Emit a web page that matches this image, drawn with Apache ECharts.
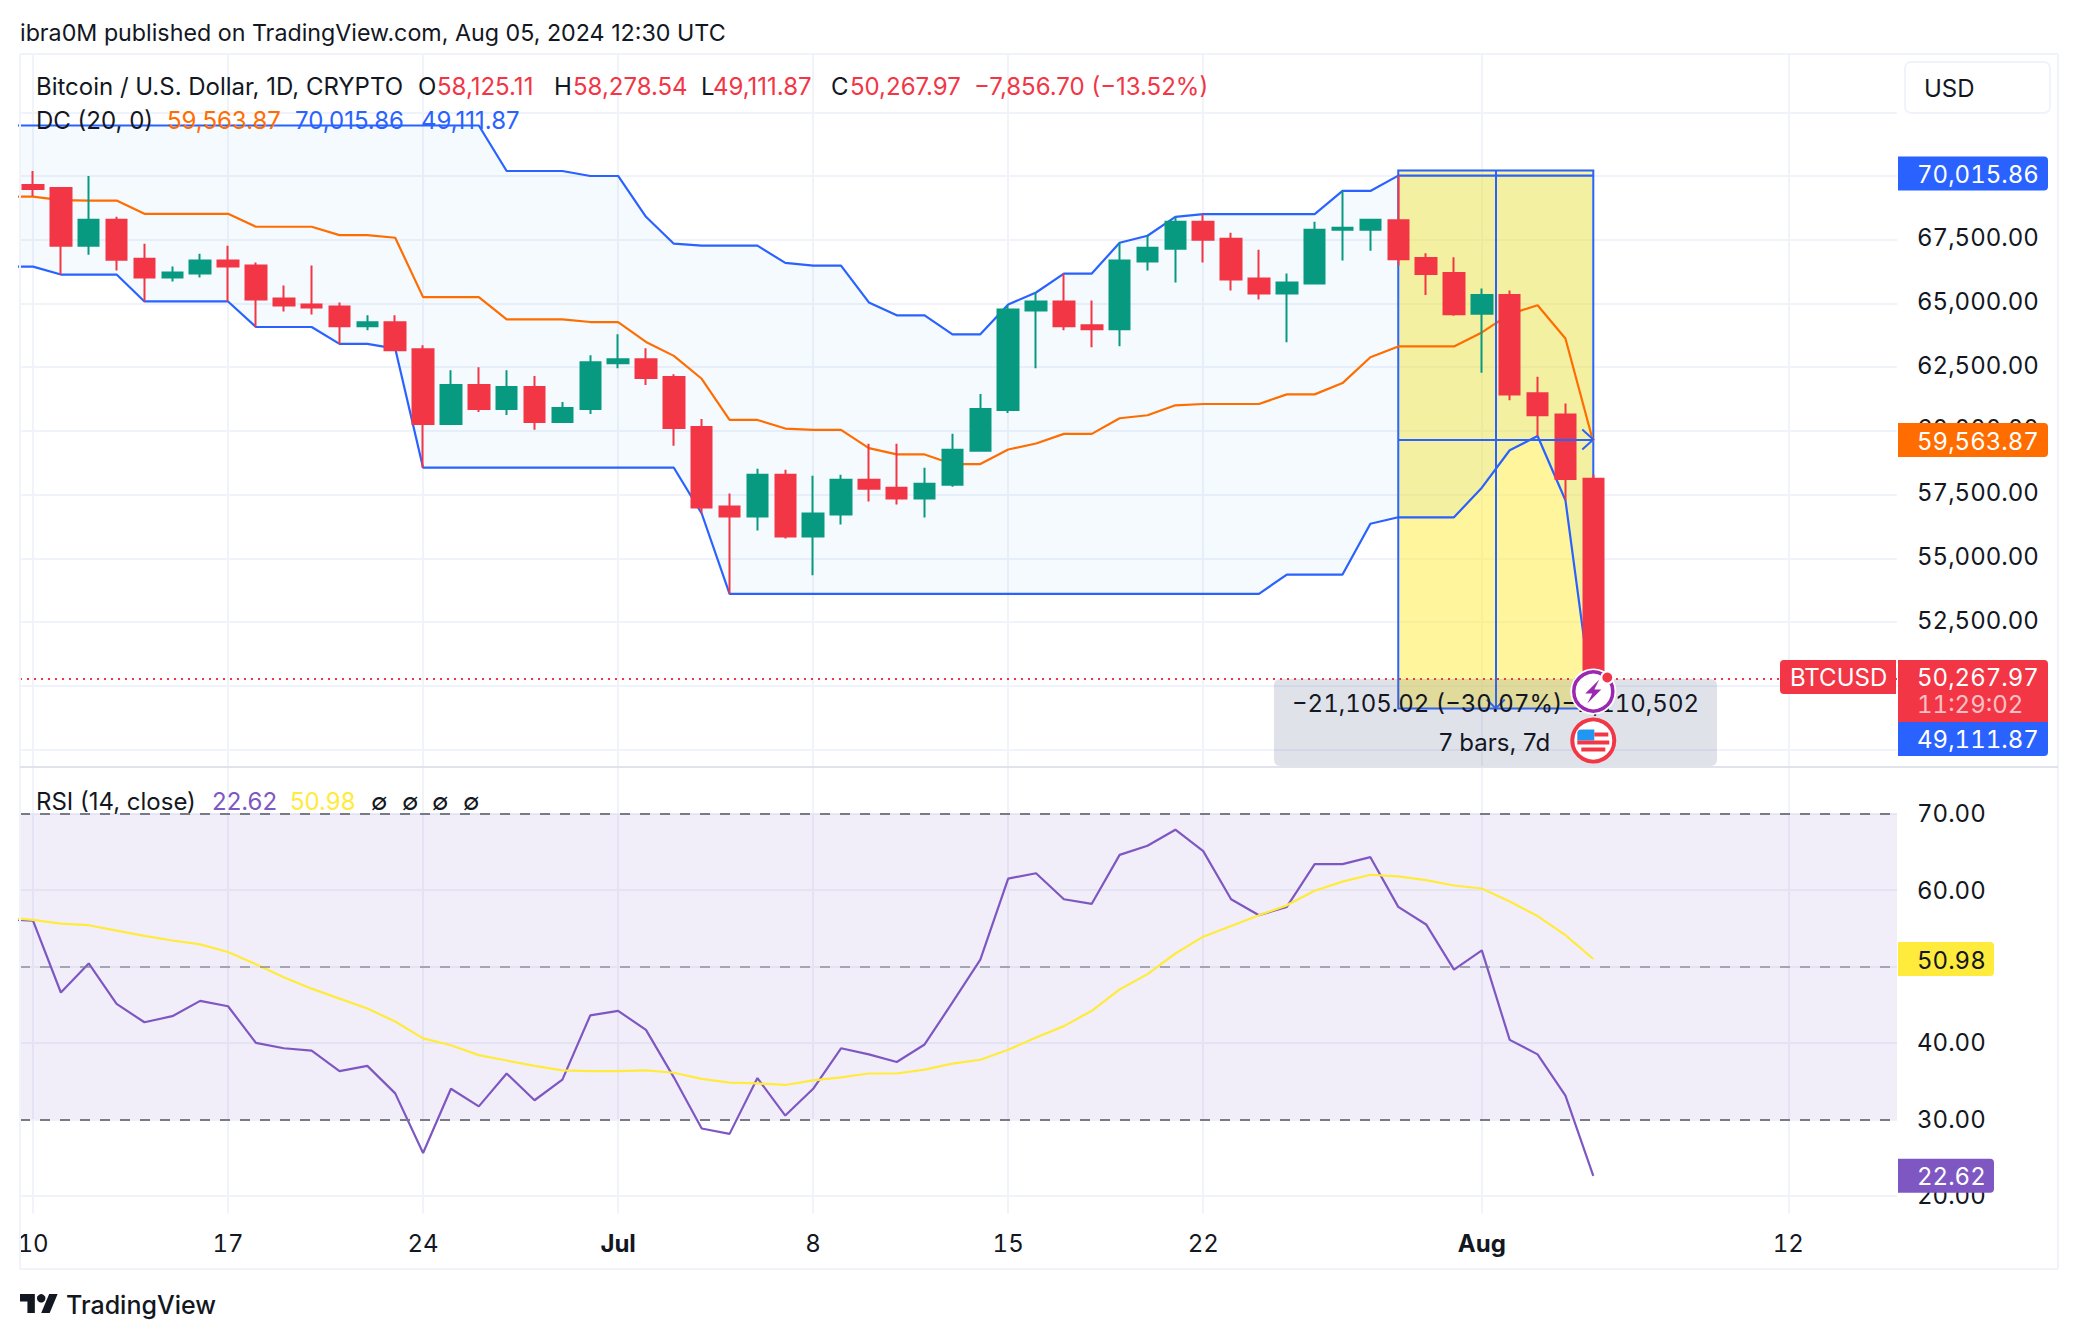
<!DOCTYPE html>
<html>
<head>
<meta charset="utf-8">
<title>BTCUSD</title>
<script src="https://cdn.jsdelivr.net/npm/echarts@6/dist/echarts.min.js"></script>
<style>
  html, body { margin: 0; padding: 0; background: #fff; }
  #chart { width: 2078px; height: 1340px; }
  /* scale and tag numbers are tabular, the legend rows are not (they use other sizes) */
  #chart text[style*="24px"] { font-variant-numeric: tabular-nums !important; }
</style>
</head>
<body>
<div id="chart"></div>
<script>
// days shown, from one day before the first visible candle
const days = ['06-09','06-10','06-11','06-12','06-13','06-14','06-15','06-16','06-17','06-18','06-19','06-20','06-21','06-22','06-23','06-24','06-25','06-26','06-27','06-28','06-29','06-30',
  '07-01','07-02','07-03','07-04','07-05','07-06','07-07','07-08','07-09','07-10','07-11','07-12','07-13','07-14','07-15','07-16','07-17','07-18','07-19','07-20','07-21','07-22','07-23','07-24','07-25','07-26','07-27','07-28','07-29','07-30','07-31',
  '08-01','08-02','08-03','08-04','08-05'];

// candles, Jun 10 to Aug 5
const opens = [69648,69531,67266,68281,66758,66016,66172,66680,66485,65196,64961,64883,64102,64258,63204,60274,61797,60860,61719,60352,60860,
  62657,62813,62110,60157,57032,56642,58282,55860,56720,58087,57774,57345,57891,59220,60821,64727,65078,64141,63985,66641,67149,68203,67539,65977,65391,65782,67891,67891,68263,66780,66190,
  64596,65330,61472,60643,58125.11];
const closes = [69492,67266,68281,66719,66016,66211,66680,66446,65157,64922,64844,64102,64258,63165,60274,61797,60860,61719,60352,60899,62696,
  62813,62071,60118,56993,56642,58282,55860,56759,58087,57735,57345,57930,59259,60860,64766,65078,64102,63985,66680,67188,68203,67500,65938,65391,65821,67891,67969,68281,66732,66158,64580,
  65330,61424,60611,58109,50267.97];
const lows = [69219,66133,66914,66289,65078,65860,66016,65078,64063,64688,64571,63412,63946,63165,58556,60274,60743,60626,60040,60313,60665,
  62461,61797,59415,56759,53608,56095,55782,54337,56329,57227,57110,56603,57813,59220,60704,62461,63946,63282,63321,66289,65821,66602,65508,65157,63477,65743,66680,67070,66485,65330,64517,
  62285,61201,59798,57280,49111.87];
const highs = [70195,69570,70000,68398,67344,66446,66953,67266,66602,65703,66485,65039,64532,64532,63360,62383,62500,62383,62149,61133,62969,
  63790,63243,62227,60470,57540,58517,58478,58243,58282,59493,59493,58556,59884,61446,64922,65430,66172,65118,67383,67656,68398,68503,67774,67110,66172,68203,69414,68320,70016,66971,66812,
  65585,65505,62125,61074,58278.54];

// Donchian channel, Jun 9 to Aug 5
const dcUpper = [71981,71981,71981,71981,71981,71981,71981,71981,71981,71981,71981,71981,71981,71981,71981,71981,71981,71981,70195,70195,70195,70000,
  70000,68398,67344,67266,67266,67266,66589,66485,66485,65039,64532,64532,63790,63790,64961,65430,66172,66172,67383,67656,68398,68503,68503,68503,68503,68503,69414,69414,70015.86,70015.86,70015.86,
  70015.86,70015.86,70015.86,70015.86,70015.86];
const dcMiddle = [69193,69193,69050,69036,69036,68516,68516,68516,68516,68008,68008,68008,67682,67682,67578,65248,65248,65248,64375,64375,64375,64271,
  64271,63490,62943,62045,60430,60430,60092,60040,60040,59324,59076,59076,58698,58698,59271,59506,59884,59884,60495,60613,61003,61055,61055,61055,61433,61433,61876,62891,63313,63313,63313,
  63863,64580,64931,63624,59563.87];
const dcLower = [66446,66446,66133,66133,66133,65078,65078,65078,65078,64076,64076,64076,63412,63412,63230,58556,58556,58556,58556,58556,58556,58556,
  58556,58556,58556,56759,53608,53608,53608,53608,53608,53608,53608,53608,53608,53608,53608,53608,53608,53608,53608,53608,53608,53608,53608,53608,54363,54363,54363,56355,56610,56610,56610,
  57774,59240,59798,57280,49111.87];

// RSI and its moving average, Jun 9 to Aug 5
const rsi = [56.2,56.0,46.6,50.4,45.1,42.7,43.5,45.5,44.8,40.0,39.3,39.0,36.3,37.0,33.4,25.6,34.0,31.7,36.0,32.5,35.2,43.6,
  44.2,41.7,35.5,28.8,28.1,35.4,30.5,34.0,39.3,38.5,37.5,39.8,45.3,50.9,61.5,62.2,58.8,58.2,64.6,65.8,67.9,65.1,58.8,56.7,57.8,63.4,63.4,64.3,57.8,55.5,49.6,
  52.1,40.4,38.5,33.1,22.62];
const rsiMa = [56.4,56.1,55.6,55.4,54.7,54.0,53.4,52.9,51.9,50.3,48.6,47.1,45.8,44.5,42.8,40.6,39.7,38.4,37.7,37.0,36.4,36.3,
  36.3,36.4,36.1,35.3,34.8,34.7,34.5,35.1,35.5,36.0,36.0,36.5,37.3,37.8,39.1,40.7,42.2,44.2,47.0,49.0,51.7,53.9,55.3,56.7,58.0,59.9,61.1,62.0,61.8,61.3,60.6,
  60.2,58.5,56.6,54.1,50.98];

// axis ticks, labels hidden behind tags in the reference are left out
const xTickDays = ['06-10','06-17','06-24','07-01','07-08','07-15','07-22','08-01','08-12'];
const xTickLabels = ['10','17','24','Jul','8','15','22','Aug','12'];
const priceGrid = [47500,50000,52500,55000,57500,60000,62500,65000,67500,70000,72500];
const priceLabels = [52500,55000,57500,60000,62500,65000,67500];
const rsiGrid = [20,30,40,50,60,70];
const rsiLabels = [20,30,40,60,70];

// measure tool, last values
const measureTop = 70216.89;
const measureBottom = 49111.87;
const lastClose = 50267.97;

const FONT = 'Inter';
const RED = '#F23645', GREEN = '#089981', BLUE = '#2962FF', ORANGE = '#FF6D00', PURPLE = '#7E57C2', YELLOW = '#FFEB3B';
const TEXT = '#131722', GRID = '#F0F3FA';
const DAY = 86400000;

const ts = (d) => Date.parse('2024-' + d + 'T00:00:00Z');
const pairs = (arr) => arr.map((v, i) => [ts(days[i]), v]);
const xTicks = xTickDays.map(ts);
const xMin = ts('06-10') - 0.4666 * DAY;
const xMax = ts('08-12') + 3.9 * DAY;

const candles = opens.map((o, i) => [ts(days[i + 1]), o, closes[i], lows[i], highs[i]]);
const bandRows = days.map((d, i) => [ts(d), dcUpper[i], dcLower[i]]);

const chart = echarts.init(document.getElementById('chart'), null, { renderer: 'svg' });

const xAxisBase = (gridIndex, showLabel) => ({
  type: 'value',
  gridIndex,
  min: xMin,
  max: xMax,
  position: 'bottom',
  axisLine: { show: false },
  axisTick: { show: false, customValues: xTicks },
  splitLine: { show: true, lineStyle: { color: GRID, width: 2 } },
  axisLabel: {
    show: showLabel,
    customValues: xTicks,
    hideOverlap: false,
    margin: 18,
    color: TEXT,
    fontFamily: FONT,
    fontSize: 24,
    formatter: (v) => {
      const s = xTickLabels[xTicks.indexOf(+v)];
      return s === 'Jul' || s === 'Aug' ? '{b|' + s + '}' : s;
    },
    rich: { b: { fontFamily: FONT, fontSize: 24, fontWeight: 700, color: TEXT } }
  }
});

const yAxisBase = (gridIndex, min, max, ticks, labels, labelExtra) => ({
  type: 'value',
  gridIndex,
  min,
  max,
  position: 'right',
  axisLine: { show: false },
  axisTick: { show: false, customValues: ticks },
  splitLine: { show: true, lineStyle: { color: GRID, width: 2 } },
  axisLabel: Object.assign({
    customValues: labels,
    margin: 20,
    align: 'left',
    color: TEXT,
    fontFamily: FONT,
    fontSize: 24,
    formatter: (v) => money(v)
  }, labelExtra)
});

const line = (name, data, color, xi, z) => ({
  name,
  type: 'line',
  data: pairs(data),
  xAxisIndex: xi,
  yAxisIndex: xi,
  symbol: 'none',
  z,
  lineStyle: { color, width: 2.2 }
});

const money = (v) => v.toLocaleString('en-US', { minimumFractionDigits: 2, maximumFractionDigits: 2 });

const measureMidDay = ts('08-01') + 0.5 * DAY;
const measureMid = (measureTop + measureBottom) / 2;

chart.setOption({
  animation: false,
  backgroundColor: '#fff',
  grid: [
    { left: 20, top: 54, width: 1877, height: 713, containLabel: false },
    { left: 20, top: 767, width: 1877, height: 446.6, containLabel: false }
  ],
  xAxis: [xAxisBase(0, false), xAxisBase(1, true)],
  yAxis: [
    // price labels sit a little above their grid lines
    yAxisBase(0, 46814, 74786, priceGrid, priceLabels, { verticalAlign: 'bottom', lineHeight: 4 }),
    yAxisBase(1, 17.67, 76.1, rsiGrid, rsiLabels, {})
  ],
  series: [
    // price range tool goes under everything else in the pane
    {
      name: 'range',
      type: 'line',
      data: [],
      z: 1,
      markArea: {
        silent: true,
        itemStyle: { color: 'rgba(255,235,59,0.5)', borderColor: BLUE, borderWidth: 2 },
        data: [[{ coord: [ts('07-29'), measureTop] }, { coord: [ts('08-05'), measureBottom] }]]
      },
      markLine: {
        silent: true,
        symbol: 'none',
        label: { show: false },
        lineStyle: { color: BLUE, width: 2, type: 'solid' },
        data: [
          [{ coord: [ts('07-29'), measureMid] }, { coord: [ts('08-05'), measureMid] }],
          [{ coord: [measureMidDay, measureTop] }, { coord: [measureMidDay, measureBottom] }]
        ]
      }
    },
    // fill between the channel edges, one polygon so the seams don't show
    {
      name: 'dcBand',
      type: 'custom',
      data: bandRows,
      z: 2,
      clip: true,
      silent: true,
      encode: { x: 0, y: [1, 2] },
      renderItem: (params, api) => {
        if (params.dataIndex !== 0) return null;
        const top = bandRows.map((r) => api.coord([r[0], r[1]]));
        const bottom = bandRows.map((r) => api.coord([r[0], r[2]])).reverse();
        return { type: 'polygon', shape: { points: top.concat(bottom) }, style: { fill: 'rgba(33,150,243,0.05)' } };
      }
    },
    line('DC upper', dcUpper, BLUE, 0, 3),
    line('DC middle', dcMiddle, ORANGE, 0, 3),
    line('DC lower', dcLower, BLUE, 0, 3),
    {
      name: 'BTCUSD',
      type: 'candlestick',
      data: candles,
      barWidth: 21,
      z: 4,
      itemStyle: { color: GREEN, color0: RED, borderColor: GREEN, borderColor0: RED, borderWidth: 2 },
      markLine: {
        silent: true,
        symbol: 'none',
        label: { show: false },
        lineStyle: { color: RED, width: 2, type: [2, 5] },
        data: [{ yAxis: lastClose }]
      }
    },
    // RSI band and levels
    {
      name: 'rsiLevels',
      type: 'line',
      data: [],
      xAxisIndex: 1,
      yAxisIndex: 1,
      z: 1,
      markArea: {
        silent: true,
        itemStyle: { color: 'rgba(126,87,194,0.1)' },
        data: [[{ yAxis: 70 }, { yAxis: 30 }]]
      },
      markLine: {
        silent: true,
        symbol: 'none',
        label: { show: false },
        data: [
          { yAxis: 70, lineStyle: { color: '#787B86', width: 2, type: [10, 10] } },
          { yAxis: 50, lineStyle: { color: 'rgba(120,123,134,0.6)', width: 2, type: [10, 10] } },
          { yAxis: 30, lineStyle: { color: '#787B86', width: 2, type: [10, 10] } }
        ]
      }
    },
    line('RSI', rsi, PURPLE, 1, 3),
    line('RSI MA', rsiMa, YELLOW, 1, 3)
  ]
});

// chrome, text rows and the price tags. 24px text is tabular, see the style block
const txt = (x, y, text, fill, extra) => Object.assign({
  type: 'text',
  z: 120,
  style: Object.assign({ x, y: y + 1, text, fill, font: '24px ' + FONT, textVerticalAlign: 'middle' }, extra || {})
});
const legend = (x, y, text, fill) => txt(x, y - 1, text, fill, { font: '23.99px ' + FONT });
const rect = (x, y, width, height, fill, r, z) => ({ type: 'rect', z: z || 110, shape: { x, y, width, height, r: r || 0 }, style: { fill } });
const hline = (x1, x2, y, stroke) => ({ type: 'line', z: 90, shape: { x1, y1: y, x2, y2: y }, style: { stroke, lineWidth: 2 } });
const vline = (x, y1, y2, stroke) => ({ type: 'line', z: 90, shape: { x1: x, y1, x2: x, y2 }, style: { stroke, lineWidth: 2 } });
const chevron = (pts) => ({ type: 'polyline', z: 5, shape: { points: pts }, style: { stroke: BLUE, lineWidth: 2, fill: null } });

const px = (v) => chart.convertToPixel({ xAxisIndex: 0 }, v);
const py = (v) => chart.convertToPixel({ yAxisIndex: 0 }, v);
const ry = (v) => chart.convertToPixel({ yAxisIndex: 1 }, v);

const tagX = 1898, tagW = 150;
const priceTag = (value, fill) => {
  const y = py(value) - 2;
  return [rect(tagX, y - 17, tagW, 34, fill, [0, 4, 4, 0]), txt(1917, y, money(value), '#fff')];
};

const closeY = py(lastClose) - 2;
const iconX = px(ts('08-05'));
const boltY = 691.5, flagY = 740.5;

// logo, points in its own 36 wide box
const logoX = (x) => 20 + x * 1.06;
const logoY = (y) => 1289.8 + y * 1.06;
const logoPoly = (pts) => ({ type: 'polygon', z: 120, shape: { points: pts.map((p) => [logoX(p[0]), logoY(p[1])]) }, style: { fill: TEXT } });

const elements = [
  // frame and pane divider
  hline(20, 2058, 54, GRID),
  hline(20, 2058, 1269, GRID),
  vline(20, 54, 1269, GRID),
  vline(2058, 54, 1269, GRID),
  hline(20, 2058, 767, '#E0E3EB'),

  // header
  txt(20, 31, 'ibra0M published on TradingView.com, Aug 05, 2024 12:30 UTC', TEXT, { font: '23.25px ' + FONT }),
  legend(36, 86, 'Bitcoin / U.S. Dollar, 1D, CRYPTO', TEXT),
  legend(418, 86, 'O', TEXT), legend(437, 86, '58,125.11', RED),
  legend(554, 86, 'H', TEXT), legend(573, 86, '58,278.54', RED),
  legend(701, 86, 'L', TEXT), legend(713, 86, '49,111.87', RED),
  legend(831, 86, 'C', TEXT), legend(850, 86, '50,267.97', RED),
  legend(974, 86, '\u22127,856.70 (\u221213.52%)', RED),
  legend(36, 120, 'DC (20, 0)', TEXT),
  legend(167, 120, '59,563.87', ORANGE),
  legend(295, 120, '70,015.86', BLUE),
  legend(421, 120, '49,111.87', BLUE),

  // RSI legend
  legend(36, 801, 'RSI (14, close)', TEXT),
  legend(212, 801, '22.62', PURPLE),
  legend(290, 801, '50.98', YELLOW),
  legend(371, 801, '\u2205', TEXT), legend(402, 801, '\u2205', TEXT), legend(432, 801, '\u2205', TEXT), legend(463, 801, '\u2205', TEXT),

  // currency button
  { type: 'rect', z: 110, shape: { x: 1905, y: 62, width: 145, height: 51, r: 6 }, style: { fill: '#fff', stroke: GRID, lineWidth: 2 } },
  legend(1924, 88, 'USD', TEXT),

  // range tool arrows
  chevron([[px(ts('08-05')) - 11, py(measureMid) - 10], [px(ts('08-05')), py(measureMid)], [px(ts('08-05')) - 11, py(measureMid) + 10]]),
  chevron([[px(measureMidDay) - 9, py(measureBottom) - 9], [px(measureMidDay), py(measureBottom)], [px(measureMidDay) + 9, py(measureBottom) - 9]]),

  // range tool readout
  rect(1274, 679, 443, 87, 'rgba(100,110,150,0.2)', 6, 100),
  txt(1292, 702, '\u221221,105.02 (\u221230.07%)', TEXT),
  txt(1699, 702, '\u22122,110,502', TEXT, { textAlign: 'right' }),
  legend(1439, 742, '7 bars, 7d', TEXT),

  // price tags on the axis
  ...priceTag(70015.86, BLUE),
  ...priceTag(59563.87, ORANGE),
  rect(1780, closeY - 17, 116, 34, RED, [4, 0, 0, 4]),
  txt(1790, closeY, 'BTCUSD', '#fff'),
  rect(tagX, closeY - 17, tagW, 62, RED, [0, 4, 0, 0]),
  txt(1917, closeY, money(lastClose), '#fff'),
  txt(1917, closeY + 27, '11:29:02', 'rgba(255,255,255,0.7)'),
  rect(tagX, closeY + 45, tagW, 34, BLUE, [0, 0, 4, 0]),
  txt(1917, closeY + 62, '49,111.87', '#fff'),

  // RSI tags
  rect(tagX, ry(50.98) - 17, 96, 34, YELLOW, [0, 4, 4, 0]),
  txt(1917, ry(50.98), '50.98', TEXT),
  rect(tagX, ry(22.62) - 17, 96, 34, PURPLE, [0, 4, 4, 0]),
  txt(1917, ry(22.62), '22.62', '#fff'),

  // event icons sitting on the last bar
  { type: 'circle', z: 130, shape: { cx: iconX, cy: boltY, r: 23 }, style: { fill: '#fff' } },
  { type: 'circle', z: 131, shape: { cx: iconX, cy: boltY, r: 19.5 }, style: { fill: '#fff', stroke: '#9C27B0', lineWidth: 3.5 } },
  { type: 'polygon', z: 132, shape: { points: [[iconX + 6, boltY - 12], [iconX - 8, boltY + 2], [iconX - 1, boltY + 2], [iconX - 6, boltY + 12], [iconX + 8, boltY - 2], [iconX + 1, boltY - 2]] }, style: { fill: '#9C27B0' } },
  { type: 'circle', z: 133, shape: { cx: iconX + 14, cy: boltY - 14, r: 6 }, style: { fill: RED, stroke: '#fff', lineWidth: 2 } },

  { type: 'circle', z: 130, shape: { cx: iconX, cy: flagY, r: 21 }, style: { fill: '#fff', stroke: RED, lineWidth: 4 } },
  rect(iconX - 16, flagY - 11, 17, 11, '#2196F3', [4, 0, 0, 0], 131),
  rect(iconX + 1, flagY - 8, 14, 4, RED, 0, 131),
  rect(iconX - 16, flagY + 0, 32, 4, RED, 0, 131),
  rect(iconX - 12, flagY + 7, 24, 4, RED, 0, 131),

  // footer logo
  logoPoly([[0, 4], [14, 4], [14, 22], [7, 22], [7, 11], [0, 11]]),
  logoPoly([[20, 22], [27.5, 4], [35.5, 4], [28, 22]]),
  { type: 'circle', z: 120, shape: { cx: logoX(20), cy: logoY(8), r: 4.2 }, style: { fill: TEXT } },
  txt(66, 1304, 'TradingView', TEXT, { font: '500 25px ' + FONT })
];

chart.setOption({ graphic: { elements } });
</script>
</body>
</html>
